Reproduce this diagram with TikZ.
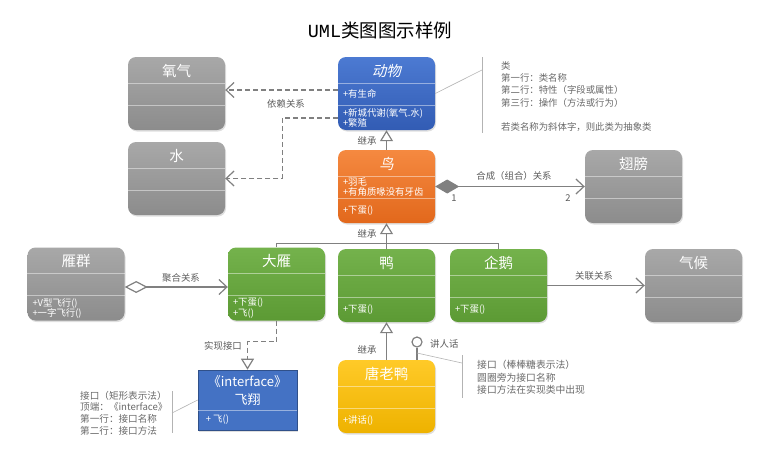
\documentclass[tikz,border=0pt]{standalone}
\usepackage{fontspec}
\setmainfont{Noto Sans CJK SC}
\newfontfamily\slantfont[FakeSlant=0.2]{Noto Sans CJK SC}
\newfontfamily\umlfont{Liberation Mono}
\usetikzlibrary{arrows.meta,calc,shadows}

\definecolor{linegray}{RGB}{128,128,128}
\definecolor{lblgray}{RGB}{90,90,90}
\definecolor{notegray}{RGB}{105,105,105}
\definecolor{grayT}{RGB}{168,168,168}
\definecolor{grayB}{RGB}{140,140,140}
\definecolor{blueT}{RGB}{76,122,210}
\definecolor{blueB}{RGB}{50,92,180}
\definecolor{orangeT}{RGB}{245,137,64}
\definecolor{orangeB}{RGB}{226,104,28}
\definecolor{greenT}{RGB}{116,178,76}
\definecolor{greenB}{RGB}{92,154,52}
\definecolor{yellowT}{RGB}{255,202,40}
\definecolor{yellowB}{RGB}{238,178,0}
\definecolor{ifaceblue}{RGB}{68,114,196}

% one class box: name, centre, colour style, title, attributes, operations
\newcommand{\umlclass}[6]{%
  \node[classbox,#3] (#1) at (#2) {};
  \draw[divider] ($(#1.north west)+(0,26)$) -- ($(#1.north east)+(0,26)$);
  \draw[divider] ($(#1.north west)+(0,48)$) -- ($(#1.north east)+(0,48)$);
  \node[classname] (#1-name) at ($(#1.north)+(0,14)$) {#4};
  \node[members] (#1-attr) at ($(#1.north west)+(5,37)$) {#5};
  \node[members] (#1-ops) at ($(#1.north west)+(5,61)$) {#6};
}

\begin{document}
\begin{tikzpicture}[x=1pt,y=-1pt,
   classbox/.style={rounded corners=8pt,minimum width=97pt,minimum height=73pt,inner sep=0pt,
     drop shadow={opacity=0.25,shadow xshift=1pt,shadow yshift=-1.5pt}},
   graybox/.style={top color=grayT,bottom color=grayB},
   bluebox/.style={top color=blueT,bottom color=blueB},
   orangebox/.style={top color=orangeT,bottom color=orangeB},
   greenbox/.style={top color=greenT,bottom color=greenB},
   yellowbox/.style={top color=yellowT,bottom color=yellowB},
   divider/.style={draw=white,opacity=0.45,line width=0.6pt},
   classname/.style={text=white,inner sep=0pt,font=\fontsize{14.5}{16}\selectfont},
   members/.style={anchor=west,align=left,inner sep=0pt,text=white,font=\fontsize{9.4}{10.5}\selectfont},
   link/.style={draw=linegray,line width=1.2pt},
   dep/.style={link,dash pattern=on 5pt off 3pt},
   openarrow/.style={-{Straight Barb[length=8pt,width=15pt]}},
   gen/.style={link,-{Triangle[length=11pt,width=13pt,fill=white]}},
   comp/.style={link,{Diamond[length=24pt,width=14pt,fill=linegray]}-{Straight Barb[length=8pt,width=15pt]}},
   agg/.style={link,{Diamond[length=23pt,width=12pt,fill=white]}-{Straight Barb[length=8pt,width=15pt]}},
   lbl/.style={text=lblgray,inner sep=1pt,font=\fontsize{9.4}{10}\selectfont},
   note/.style={anchor=west,align=left,inner sep=0pt,text=notegray,font=\fontsize{9.4}{12.2}\selectfont},
   noteline/.style={draw=linegray!60,line width=0.6pt},
   ]
\useasboundingbox (0,0) rectangle (784,453);
\node[font=\fontsize{18.5}{20}\selectfont] (title) at (380,30) {{\umlfont UML}类图图示样例};

\umlclass{oxygen}{176.5,93.5}{graybox}{氧气}{}{}
\umlclass{water}{176.5,178.5}{graybox}{水}{}{}
\umlclass{animal}{386.5,93.5}{bluebox}{{\slantfont 动物}}{+有生命}{+新城代谢(氧气.水)\\+繁殖}
\umlclass{bird}{386.5,186.5}{orangebox}{{\slantfont 鸟}}{+羽毛\\+有角质喙没有牙齿}{+下蛋()}
\umlclass{wing}{633.5,186.5}{graybox}{翅膀}{}{}
\umlclass{flock}{76,284}{graybox}{雁群}{}{+V型飞行()\\+一字飞行()}
\umlclass{dayan}{276.5,284}{greenbox}{大雁}{}{+下蛋()\\+飞()}
\umlclass{ya}{386.5,285.5}{greenbox}{鸭}{}{+下蛋()}
\umlclass{qie}{498.5,285.5}{greenbox}{企鹅}{}{+下蛋()}
\umlclass{climate}{693.5,285.5}{graybox}{气候}{}{}
\umlclass{tang}{386.5,396.5}{yellowbox}{唐老鸭}{}{+讲话()}

% interface, rectangle notation
\node[fill=ifaceblue,draw=ifaceblue!70!black,line width=0.6pt,minimum width=99pt,minimum height=60pt,inner sep=0pt,
  drop shadow={opacity=0.25,shadow xshift=1pt,shadow yshift=-1.5pt}] (iface) at (247.5,400) {};
\draw[divider] ($(iface.north west)+(0,41)$) -- ($(iface.north east)+(0,41)$);
\node[classname,align=center,font=\fontsize{13}{17.5}\selectfont] (iface-name) at ($(iface.north)+(0,21)$) {《interface》\\飞翔};
\node[members] (iface-ops) at ($(iface.north west)+(8,50)$) {+ 飞()};

% dependency
\draw[dep,openarrow] ([yshift=3.5pt]animal.west) -- ([yshift=3.5pt]oxygen.east);
\draw[dep,openarrow] ([yshift=-24.5pt]animal.west) -| ($(water.east)+(57,0)$) -- (water.east);
\node[lbl] (deplbl) at (286,104) {依赖关系};

% generalisation
\draw[gen] (bird.north) -- (animal.south);
\node[lbl] (gen1) at (367,141) {继承};
\coordinate (fork) at ($(bird.south)+(0,20)$);
\draw[gen] (fork) -- (bird.south);
\draw[link] (dayan.north) |- (fork) -| (qie.north);
\draw[link] (fork) -- (ya.north);
\node[lbl] (gen2) at (367,234) {继承};
\draw[gen] (tang.north) -- (ya.south);
\node[lbl] (gen3) at (367,350) {继承};

% composition, aggregation, association
\draw[comp] (bird.east) -- (wing.west);
\node[lbl] (complbl) at (514,176) {合成（组合）关系};
\node[lbl] (mult1) at (454,198) {1};
\node[lbl] (mult2) at (568,198) {2};
\draw[agg] ([yshift=-3pt]flock.east) -- ([yshift=-3pt]dayan.west);
\node[lbl] (agglbl) at (181,278) {聚合关系};
\draw[link,openarrow] (qie.east) -- (climate.west);
\node[lbl] (asslbl) at (594,276) {关联关系};

% realisation
\draw[dep,-{Triangle[length=11pt,width=13pt,fill=white]}] (dayan.south) -- ++(0,21) -| (iface.north);
\node[lbl] (reallbl) at (223,346) {实现接口};

% lollipop interface
\node[circle,draw=linegray,line width=1.2pt,fill=white,minimum size=10pt,inner sep=0pt] (speak) at (417,342) {};
\draw[link] (speak.south) -- (speak.south |- tang.north);
\node[lbl,anchor=west] (speaklbl) at (429,344) {讲人话};

% notes
\coordinate (cbar) at (482,70);
\draw[noteline] (animal.east) -- (cbar);
\draw[noteline] (482,57) -- (482,133);
\node[note] (classnote) at (501,96.5) {类\\第一行：类名称\\第二行：特性（字段或属性）\\第三行：操作（方法或行为）\\[12.2pt]若类名称为斜体字，则此类为抽象类};

\coordinate (stem) at (417,353);
\coordinate (tbar) at (462,363);
\draw[noteline] (stem) -- (tbar);
\draw[noteline] (462,355) -- (462,398);
\node[note,font=\fontsize{9.8}{12.5}\selectfont] (tangnote) at (477,377.5) {接口（棒棒糖表示法）\\圆圈旁为接口名称\\接口方法在实现类中出现};

\coordinate (ibar) at (172,413);
\draw[noteline] (ibar) -- (iface.west);
\draw[noteline] (172,391) -- (172,433);
\node[note,font=\fontsize{9.6}{11.6}\selectfont] (ifacenote) at (80,413) {接口（矩形表示法）\\顶端：《interface》\\第一行：接口名称\\第二行：接口方法};
\end{tikzpicture}
\end{document}
